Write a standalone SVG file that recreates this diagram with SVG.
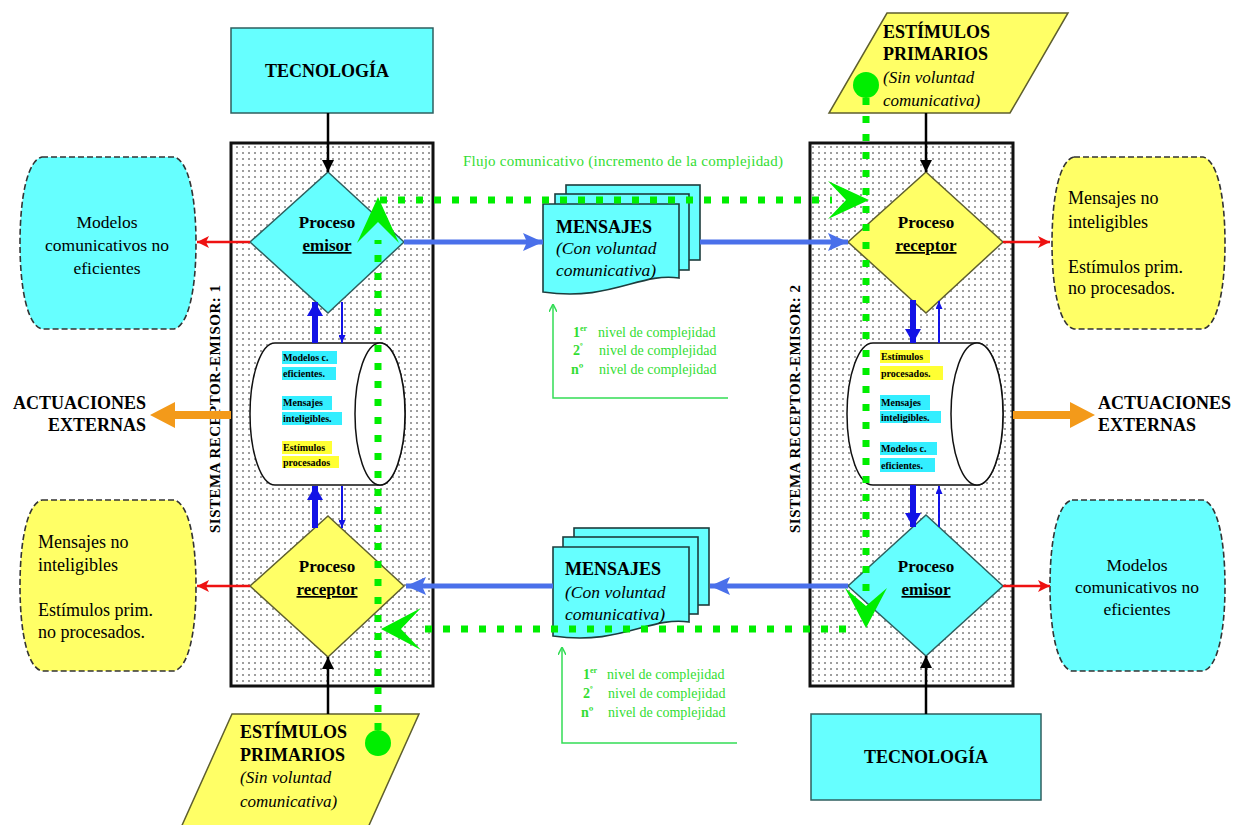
<svg xmlns="http://www.w3.org/2000/svg" width="1245" height="825" viewBox="0 0 1245 825">
<defs>
<style>
text{font-family:"Liberation Serif","Times New Roman",serif;fill:#000}
.b{font-weight:bold}
.it{font-style:italic}
.sys{fill:url(#dots);stroke:#111;stroke-width:3}
.cy{fill:#66ffff;stroke:#2f5f5f;stroke-width:1.5}
.ye{fill:#ffff66;stroke:#5f5f2f;stroke-width:1.5}
.side-c{fill:#66ffff;stroke:#333;stroke-width:1.6;stroke-dasharray:6 3}
.side-y{fill:#ffff66;stroke:#333;stroke-width:1.6;stroke-dasharray:6 3}
.doc{fill:#66ffff;stroke:#1d3d3d;stroke-width:1.6}
.cyl{fill:#fff;stroke:#111;stroke-width:1.5}
.k{stroke:#000;stroke-width:2.5;fill:none;marker-end:url(#ak)}
.r{stroke:#ee1111;stroke-width:2.5;fill:none;marker-end:url(#ar)}
.bl{stroke:#4a70ea;stroke-width:5;fill:none;marker-end:url(#ab)}
.db{stroke:#1212e6;stroke-width:6;fill:none;marker-end:url(#adb)}
.dt{stroke:#1212e6;stroke-width:2;fill:none;marker-end:url(#adt)}
.gl{stroke:#33dd55;stroke-width:1.5;fill:none;marker-end:url(#ag)}
.gd{stroke:#00ee00;stroke-width:7;fill:none;stroke-dasharray:7 11}
.gf{fill:#00ee00}
.gt{fill:#33dd33}
.hc{fill:#33eeff}
.hy{fill:#ffff33}
.sm{font-size:10px;font-weight:bold}
</style>
<pattern id="dots" width="6" height="6" patternUnits="userSpaceOnUse">
<rect width="6" height="6" fill="#fff"/>
<circle cx="3" cy="3" r="0.8" fill="#222"/>
</pattern>
<marker id="ak" viewBox="0 0 12 12" refX="12" refY="6" markerWidth="12" markerHeight="12" markerUnits="userSpaceOnUse" orient="auto"><path d="M0,0 L12,6 L0,12 z" fill="#000"/></marker>
<marker id="ar" viewBox="0 0 12 12" refX="12" refY="6" markerWidth="12" markerHeight="13" markerUnits="userSpaceOnUse" orient="auto"><path d="M0,0 L12,6 L0,12 L3,6 z" fill="#ee1111"/></marker>
<marker id="ab" viewBox="0 0 20 18" refX="20" refY="9" markerWidth="20" markerHeight="18" markerUnits="userSpaceOnUse" orient="auto"><path d="M0,0 L20,9 L0,18 L4,9 z" fill="#4a70ea"/></marker>
<marker id="adb" viewBox="0 0 14 16" refX="14" refY="8" markerWidth="14" markerHeight="16" markerUnits="userSpaceOnUse" orient="auto"><path d="M0,0 L14,8 L0,16 z" fill="#1212e6"/></marker>
<marker id="adt" viewBox="0 0 8 7" refX="8" refY="3.5" markerWidth="8" markerHeight="7" markerUnits="userSpaceOnUse" orient="auto"><path d="M0,0 L8,3.5 L0,7 z" fill="#1212e6"/></marker>
<marker id="ag" viewBox="0 0 8 8" refX="8" refY="4" markerWidth="8" markerHeight="8" markerUnits="userSpaceOnUse" orient="auto"><path d="M0,0 L8,4 L0,8" fill="none" stroke="#33dd55" stroke-width="1.5"/></marker>
</defs>
<rect width="1245" height="825" fill="#fff"/>

<g id="sistema1">
<rect class="sys" x="231" y="143" width="202" height="543"/>
<text class="b" font-size="15" text-anchor="middle" textLength="248" lengthAdjust="spacing" transform="translate(220,409) rotate(-90)">SISTEMA RECEPTOR-EMISOR: 1</text>
</g>
<g id="sistema2">
<rect class="sys" x="810" y="143" width="203" height="543"/>
<text class="b" font-size="15" text-anchor="middle" textLength="248" lengthAdjust="spacing" transform="translate(800,409) rotate(-90)">SISTEMA RECEPTOR-EMISOR: 2</text>
</g>

<g id="tecnologia1">
<rect class="cy" x="231" y="28" width="202" height="85" stroke="#222"/>
<text class="b" font-size="18" x="327" y="77" text-anchor="middle">TECNOLOGÍA</text>
</g>
<g id="tecnologia2">
<rect class="cy" x="811" y="714" width="230" height="86" stroke="#222"/>
<text class="b" font-size="18" x="926" y="763" text-anchor="middle">TECNOLOGÍA</text>
</g>

<g id="estimulos2">
<polygon class="ye" points="887,13 1068,13 1010,113 829,113" stroke="#222"/>
<text class="b" font-size="18" x="883" y="38">ESTÍMULOS</text>
<text class="b" font-size="18" x="883" y="60">PRIMARIOS</text>
<text class="it" font-size="17" x="883" y="83">(Sin voluntad</text>
<text class="it" font-size="17" x="883" y="106">comunicativa)</text>
</g>
<g id="estimulos1">
<polygon class="ye" points="232,714 419,714 366,832 179,832" stroke="#222"/>
<text class="b" font-size="18" x="240" y="738">ESTÍMULOS</text>
<text class="b" font-size="18" x="240" y="761">PRIMARIOS</text>
<text class="it" font-size="17" x="240" y="783">(Sin voluntad</text>
<text class="it" font-size="17" x="240" y="807">comunicativa)</text>
</g>

<g id="emisor1">
<polygon class="cy" points="328,172 404,242 328,313 250,242"/>
<text class="b" font-size="17" x="327" y="228" text-anchor="middle">Proceso</text>
<text class="b" font-size="17" x="327" y="251" text-anchor="middle" text-decoration="underline">emisor</text>
</g>
<g id="receptor1">
<polygon class="ye" points="328,516 404,586 328,657 250,586"/>
<text class="b" font-size="17" x="327" y="572" text-anchor="middle">Proceso</text>
<text class="b" font-size="17" x="327" y="595" text-anchor="middle" text-decoration="underline">receptor</text>
</g>
<g id="receptor2">
<polygon class="ye" points="926,172 1003,242 926,313 848,242"/>
<text class="b" font-size="17" x="926" y="228" text-anchor="middle">Proceso</text>
<text class="b" font-size="17" x="926" y="251" text-anchor="middle" text-decoration="underline">receptor</text>
</g>
<g id="emisor2">
<polygon class="cy" points="926,515 1003,586 926,656 848,586"/>
<text class="b" font-size="17" x="926" y="572" text-anchor="middle">Proceso</text>
<text class="b" font-size="17" x="926" y="595" text-anchor="middle" text-decoration="underline">emisor</text>
</g>

<g id="memoria1">
<path class="cyl" d="M275,343 H380 A25,71 0 0 1 380,485 H275 A25,71 0 0 1 275,343 Z"/>
<ellipse class="cyl" cx="380" cy="414" rx="25" ry="71"/>
<rect class="hc" x="282" y="351" width="55" height="13"/>
<rect class="hc" x="282" y="367" width="54" height="13"/>
<rect class="hc" x="282" y="396" width="50" height="14"/>
<rect class="hc" x="282" y="412" width="60" height="13"/>
<rect class="hy" x="282" y="441" width="50" height="13"/>
<rect class="hy" x="282" y="456" width="57" height="12"/>
<text class="sm" x="283" y="361">Modelos c.</text>
<text class="sm" x="283" y="377">eficientes.</text>
<text class="sm" x="283" y="406">Mensajes</text>
<text class="sm" x="283" y="422">inteligibles.</text>
<text class="sm" x="283" y="451">Estímulos</text>
<text class="sm" x="283" y="466">procesados</text>
</g>
<g id="memoria2">
<path class="cyl" d="M873,343 H977 A26,71 0 0 1 977,485 H873 A26,71 0 0 1 873,343 Z"/>
<ellipse class="cyl" cx="977" cy="414" rx="26" ry="71"/>
<rect class="hy" x="880" y="350" width="50" height="13"/>
<rect class="hy" x="880" y="366" width="63" height="14"/>
<rect class="hc" x="880" y="395" width="50" height="15"/>
<rect class="hc" x="880" y="411" width="61" height="12"/>
<rect class="hc" x="880" y="442" width="57" height="13"/>
<rect class="hc" x="880" y="458" width="55" height="14"/>
<text class="sm" x="881" y="360">Estímulos</text>
<text class="sm" x="881" y="377">procesados.</text>
<text class="sm" x="881" y="406">Mensajes</text>
<text class="sm" x="881" y="421">inteligibles.</text>
<text class="sm" x="881" y="452">Modelos c.</text>
<text class="sm" x="881" y="469">eficientes.</text>
</g>

<g id="mensajes1">
<rect class="doc" x="566" y="185" width="134" height="75"/>
<rect class="doc" x="555" y="194" width="134" height="76"/>
<path class="doc" d="M543,204 H679 V278 C640,272 610,302 543,292 Z"/>
<text class="b" font-size="18" x="556" y="233">MENSAJES</text>
<text class="it" font-size="17.5" x="556" y="254">(Con voluntad</text>
<text class="it" font-size="17.5" x="556" y="276">comunicativa)</text>
</g>
<g id="mensajes2">
<rect class="doc" x="574" y="528" width="135" height="77"/>
<rect class="doc" x="563" y="537" width="135" height="77"/>
<path class="doc" d="M553,547 H689 V622 C650,616 620,646 553,636 Z"/>
<text class="b" font-size="18" x="565" y="575">MENSAJES</text>
<text class="it" font-size="17.5" x="565" y="598">(Con voluntad</text>
<text class="it" font-size="17.5" x="565" y="620">comunicativa)</text>
</g>

<g id="no-eficientes1">
<path class="side-c" d="M42,157 H174 C188,160 196,195 196,243 C196,291 188,326 174,329 H42 C28,326 20,291 20,243 C20,195 28,160 42,157 Z"/>
<text font-size="17.5" x="107" y="228" text-anchor="middle">Modelos</text>
<text font-size="17.5" x="107" y="251" text-anchor="middle">comunicativos no</text>
<text font-size="17.5" x="107" y="274" text-anchor="middle">eficientes</text>
</g>
<g id="no-inteligibles1">
<path class="side-y" d="M42,500 H174 C188,503 196,538 196,586 C196,634 188,668 174,671 H42 C28,668 20,634 20,586 C20,538 28,503 42,500 Z"/>
<text font-size="18" x="38" y="548">Mensajes no</text>
<text font-size="18" x="38" y="571">inteligibles</text>
<text font-size="18" x="38" y="616">Estímulos prim.</text>
<text font-size="18" x="38" y="638">no procesados.</text>
</g>
<g id="no-inteligibles2">
<path class="side-y" d="M1074,157 H1203 C1217,160 1225,195 1225,243 C1225,291 1217,326 1203,329 H1074 C1060,326 1052,291 1052,243 C1052,195 1060,160 1074,157 Z"/>
<text font-size="18" x="1068" y="204">Mensajes no</text>
<text font-size="18" x="1068" y="228">inteligibles</text>
<text font-size="18" x="1068" y="273">Estímulos prim.</text>
<text font-size="18" x="1068" y="294">no procesados.</text>
</g>
<g id="no-eficientes2">
<path class="side-c" d="M1072,500 H1203 C1217,503 1225,538 1225,586 C1225,634 1217,668 1203,671 H1072 C1058,668 1050,634 1050,586 C1050,538 1058,503 1072,500 Z"/>
<text font-size="17.5" x="1137" y="571" text-anchor="middle">Modelos</text>
<text font-size="17.5" x="1137" y="593" text-anchor="middle">comunicativos no</text>
<text font-size="17.5" x="1137" y="615" text-anchor="middle">eficientes</text>
</g>

<g id="actuaciones1">
<text class="b" font-size="18" x="146" y="409" text-anchor="end">ACTUACIONES</text>
<text class="b" font-size="18" x="146" y="431" text-anchor="end">EXTERNAS</text>
</g>
<g id="actuaciones2">
<text class="b" font-size="18" x="1098" y="409">ACTUACIONES</text>
<text class="b" font-size="18" x="1098" y="431">EXTERNAS</text>
</g>

<g id="niveles1">
<text class="gt" font-size="15" x="463" y="166" textLength="320" lengthAdjust="spacing">Flujo comunicativo  (incremento de la complejidad)</text>
<text class="gt b" font-size="14" x="573" y="337">1<tspan font-size="8" dy="-6">er</tspan></text>
<text class="gt b" font-size="14" x="573" y="355">2<tspan font-size="8" dy="-6">º</tspan></text>
<text class="gt b" font-size="14" x="571" y="374">nº</text>
<text class="gt" font-size="14" x="598" y="337">nivel de complejidad</text>
<text class="gt" font-size="14" x="599" y="355">nivel de complejidad</text>
<text class="gt" font-size="14" x="599" y="374">nivel de complejidad</text>
</g>
<g id="niveles2">
<text class="gt b" font-size="14" x="583" y="679">1<tspan font-size="8" dy="-6">er</tspan></text>
<text class="gt b" font-size="14" x="583" y="698">2<tspan font-size="8" dy="-6">º</tspan></text>
<text class="gt b" font-size="14" x="581" y="717">nº</text>
<text class="gt" font-size="14" x="607" y="679">nivel de complejidad</text>
<text class="gt" font-size="14" x="608" y="698">nivel de complejidad</text>
<text class="gt" font-size="14" x="608" y="717">nivel de complejidad</text>
</g>

<g id="connectors">
<path class="k" d="M328,113 V172"/>
<path class="k" d="M926,113 V172"/>
<path class="k" d="M926,714 V656"/>
<path class="k" d="M328,714 V657"/>
<path class="r" d="M250,242 H197"/>
<path class="r" d="M250,586 H197"/>
<path class="r" d="M1003,242 H1050"/>
<path class="r" d="M1003,586 H1050"/>
<path class="bl" d="M404,242 H543"/>
<path class="bl" d="M700,242 H848"/>
<path class="bl" d="M848,586 H710"/>
<path class="bl" d="M553,586 H406"/>
<path class="db" d="M315,343 V302"/>
<path class="dt" d="M342,302 V343"/>
<path class="db" d="M315,528 V486"/>
<path class="dt" d="M342,486 V528"/>
<path class="db" d="M913,300 V343"/>
<path class="dt" d="M939,343 V301"/>
<path class="db" d="M913,485 V527"/>
<path class="dt" d="M939,527 V486"/>
<path d="M231,411 H175 V402 L150,415 L175,428 V419 H231 Z" fill="#f39a1a"/>
<path d="M1013,411 H1070 V402 L1095,415 L1070,428 V419 H1013 Z" fill="#f39a1a"/>
<path class="gl" d="M728,398 H553 V304"/>
<path class="gl" d="M737,743 H562 V647"/>
<path class="gd" d="M380,200 H832"/>
<path class="gd" d="M866,98 V592"/>
<path class="gd" d="M846,629 H418"/>
<path class="gd" d="M378,730 V240"/>
<circle class="gf" cx="866" cy="85" r="13"/>
<circle class="gf" cx="378" cy="743" r="13"/>
<polygon class="gf" points="378,197 399,243 378,222 357,243"/>
<polygon class="gf" points="869,200 828,181 846,200 828,219"/>
<polygon class="gf" points="866,628 845,588 866,606 887,588"/>
<polygon class="gf" points="381,629 421,608 401,629 421,650"/>
</g>
</svg>
